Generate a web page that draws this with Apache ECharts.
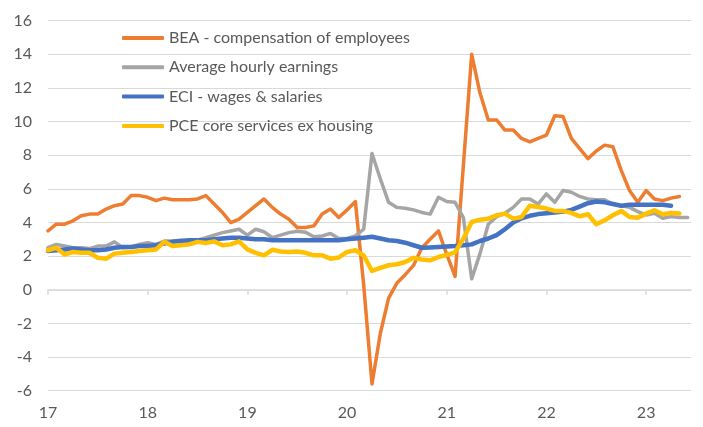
<!DOCTYPE html>
<html>
<head>
<meta charset="utf-8">
<script src="https://cdn.jsdelivr.net/npm/echarts@6/dist/echarts.min.js"></script>
<style>html,body{margin:0;padding:0;background:#fff}#c{width:703px;height:427px}</style>
</head>
<body>
<div id="c"></div>
<script>
// Monthly values starting Jan 2017 (index 0)
var seriesNames = ['BEA - compensation of employees', 'Average hourly earnings', 'ECI - wages & salaries', 'PCE core services ex housing'];
var yearLabels = ['17', '18', '19', '20', '21', '22', '23'];
var bea = [3.5, 3.9, 3.9, 4.1, 4.4, 4.5, 4.5, 4.8, 5.0, 5.1, 5.6, 5.6,
  5.5, 5.3, 5.45, 5.35, 5.35, 5.35, 5.4, 5.6, 5.1, 4.6, 4.0, 4.2,
  4.6, 5.0, 5.4, 4.9, 4.5, 4.2, 3.7, 3.7, 3.8, 4.5, 4.8, 4.3,
  4.75, 5.25, 0.3, -5.6, -2.6, -0.5, 0.4, 0.9, 1.45, 2.5, 3.0, 3.5,
  2.1, 0.8, 7.4, 14.0, 11.7, 10.1, 10.1, 9.5, 9.5, 9.0, 8.8, 9.0,
  9.2, 10.35, 10.3, 9.0, 8.4, 7.8, 8.25, 8.6, 8.5, 7.1, 5.9, 5.2,
  5.9, 5.4, 5.3, 5.45, 5.55];
var ahe = [2.5, 2.7, 2.6, 2.5, 2.5, 2.45, 2.6, 2.6, 2.85, 2.5, 2.55, 2.7,
  2.8, 2.7, 2.9, 2.9, 2.95, 2.9, 2.95, 3.1, 3.25, 3.4, 3.5, 3.6,
  3.25, 3.6, 3.45, 3.1, 3.25, 3.4, 3.48, 3.42, 3.15, 3.2, 3.35, 3.05,
  3.05, 3.2, 3.6, 8.1, 6.6, 5.2, 4.9, 4.85, 4.75, 4.6, 4.5, 5.5,
  5.25, 5.2, 4.3, 0.65, 2.15, 3.9, 4.35, 4.55, 4.9, 5.4, 5.4, 5.1,
  5.7, 5.2, 5.9, 5.8, 5.55, 5.4, 5.35, 5.35, 5.1, 5.0, 4.9, 4.65,
  4.45, 4.55, 4.25, 4.35, 4.3, 4.3];
var eci = [2.3, 2.35, 2.4, 2.45, 2.4, 2.35, 2.35, 2.4, 2.5, 2.55, 2.55, 2.6,
  2.6, 2.65, 2.75, 2.85, 2.9, 2.95, 2.95, 2.95, 3.0, 3.05, 3.1, 3.1,
  3.05, 3.0, 3.0, 2.95, 2.95, 2.95, 2.95, 2.95, 2.95, 2.95, 2.95, 2.95,
  3.0, 3.05, 3.1, 3.15, 3.05, 2.95, 2.9, 2.8, 2.65, 2.5, 2.52, 2.55,
  2.58, 2.6, 2.65, 2.7, 2.9, 3.05, 3.25, 3.6, 4.0, 4.25, 4.4, 4.5,
  4.55, 4.6, 4.65, 4.75, 4.95, 5.15, 5.25, 5.2, 5.1, 5.0, 5.05, 5.05,
  5.05, 5.05, 5.05, 5.0];
var pce = [2.35, 2.5, 2.1, 2.25, 2.2, 2.2, 1.9, 1.85, 2.15, 2.2, 2.25, 2.3,
  2.35, 2.4, 2.85, 2.6, 2.65, 2.7, 2.85, 2.78, 2.88, 2.65, 2.7, 2.88,
  2.4, 2.2, 2.05, 2.38, 2.28, 2.25, 2.28, 2.2, 2.05, 2.05, 1.85, 1.92,
  2.25, 2.35, 2.05, 1.12, 1.3, 1.46, 1.52, 1.65, 1.9, 1.8, 1.75, 1.95,
  2.08, 2.23, 3.04, 4.03, 4.17, 4.23, 4.43, 4.53, 4.23, 4.33, 5.0, 4.92,
  4.83, 4.69, 4.69, 4.57, 4.37, 4.49, 3.9, 4.13, 4.43, 4.69, 4.33, 4.29,
  4.53, 4.73, 4.49, 4.57, 4.53];

function pairs(arr) { return arr.map(function (v, i) { return [i, v]; }); }
var yearTicks = yearLabels.map(function (y, i) { return i * 12; });

var chart = echarts.init(document.getElementById('c'), null, { renderer: 'canvas' });
var font = 'Lato, "Open Sans", sans-serif';
var colors = ['#ED7D31', '#A5A5A5', '#4472C4', '#FFC000'];
var widths = [3.5, 3.5, 4.5, 4.5];
var datas = [bea, ahe, eci, pce];

chart.setOption({
  animation: false,
  grid: { left: 48, right: 12, top: 20.7, bottom: 36.3, containLabel: false },
  legend: {
    orient: 'vertical', left: 117, top: 23,
    itemWidth: 42, itemHeight: 4, itemGap: 9.3,
    icon: 'roundRect',
    textStyle: { fontFamily: font, fontSize: 16, color: '#595959', lineHeight: 20 },
    data: seriesNames
  },
  xAxis: [{
    type: 'value', min: 0, max: 77.4,
    axisLine: { show: true, onZero: true, lineStyle: { color: '#D9D9D9', width: 1.5 } },
    axisTick: { show: true, length: 5, inside: false, customValues: yearTicks, lineStyle: { color: '#D9D9D9', width: 1.5 } },
    axisLabel: { show: false },
    splitLine: { show: false }
  }, {
    type: 'value', min: 0, max: 77.4, position: 'bottom',
    axisLine: { show: false, onZero: false },
    axisTick: { show: false },
    splitLine: { show: false },
    axisLabel: {
      show: true, margin: 14, customValues: yearTicks,
      fontFamily: font, fontSize: 16, color: '#595959',
      formatter: function (v) { return yearLabels[Math.round(v / 12)]; }
    }
  }],
  yAxis: {
    type: 'value', min: -6, max: 16, interval: 2,
    axisLine: { show: false }, axisTick: { show: false },
    splitLine: { lineStyle: { color: '#D9D9D9', width: 1 } },
    axisLabel: { margin: 16, fontFamily: font, fontSize: 16, color: '#595959' }
  },
  series: seriesNames.map(function (n, k) {
    return {
      name: n, type: 'line', xAxisIndex: 0, data: pairs(datas[k]),
      showSymbol: false, symbol: 'none',
      itemStyle: { color: colors[k] },
      lineStyle: { color: colors[k], width: widths[k], join: 'round', cap: 'round' }
    };
  })
});
</script>
</body>
</html>
